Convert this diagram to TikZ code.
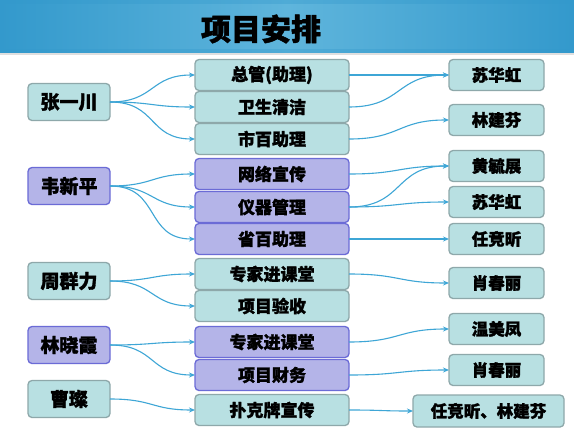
\documentclass[tikz,border=0pt]{standalone}
\usepackage{fontspec}
\setmainfont{Noto Sans CJK SC}[BoldFeatures={FakeBold=1.5}]
\usetikzlibrary{arrows.meta,calc}
\definecolor{tealfill}{HTML}{B8E0E2}
\definecolor{tealline}{HTML}{8EA8AA}
\definecolor{purfill}{HTML}{B4B4E8}
\definecolor{purline}{HTML}{6B6BD6}
\definecolor{arrowblue}{HTML}{3EA6D6}
\definecolor{bardark}{HTML}{3399CC}
\definecolor{barlight}{HTML}{5FB5DC}
\tikzset{
  box/.style={draw, line width=1.3pt, rounded corners=4pt, outer sep=0pt, inner sep=0pt, font=\bfseries},
  tealbox/.style={box, draw=tealline, fill=tealfill},
  purbox/.style={box, draw=purline, fill=purfill},
  leftbox/.style={minimum width=82pt, minimum height=37pt, font=\bfseries\fontsize{19}{19}\selectfont},
  midbox/.style={minimum width=154pt, minimum height=31pt, font=\bfseries\fontsize{17}{17}\selectfont},
  rightbox/.style={minimum width=95pt, minimum height=31pt, font=\bfseries\fontsize{16.5}{16.5}\selectfont},
  link/.style={draw=arrowblue, line width=1.1pt, -{Stealth[length=6pt,width=5pt]}, out=0, in=180, looseness=1.3},
}
\begin{document}
\begin{tikzpicture}[x=1pt,y=-1pt]
\useasboundingbox (0,0) rectangle (574,429);
\fill[white] (0,0) rectangle (574,429);
% title bar
\shade[left color=bardark, right color=bardark, middle color=barlight] (0,0) rectangle (574,53);
\fill[bardark, opacity=0.35] (0,0) rectangle (574,4);
\fill[bardark, opacity=0.35] (0,49) rectangle (574,53);
\fill[gray!25] (0,53) rectangle (574,55);
\node[font=\bfseries\fontsize{30}{30}\selectfont] (title) at (261,29) {项目安排};

% left nodes
\node[tealbox, leftbox] (zyc) at (69,102) {张一川};
\node[purbox, leftbox] (wxp) at (69,186) {韦新平};
\node[tealbox, leftbox] (zql) at (69,281) {周群力};
\node[purbox, leftbox] (lxx) at (69,345) {林晓霞};
\node[tealbox, leftbox] (cc) at (69,399) {曹璨};

% middle nodes
\node[tealbox, midbox] (m1) at (272,75) {总管(助理)};
\node[tealbox, midbox] (m2) at (272,107) {卫生清洁};
\node[tealbox, midbox] (m3) at (272,139) {市百助理};
\node[purbox, midbox] (m4) at (272,174) {网络宣传};
\node[purbox, midbox] (m5) at (272,207) {仪器管理};
\node[purbox, midbox] (m6) at (272,239) {省百助理};
\node[tealbox, midbox] (m7) at (272,274) {专家进课堂};
\node[tealbox, midbox] (m8) at (272,306) {项目验收};
\node[purbox, midbox] (m9) at (272,342) {专家进课堂};
\node[purbox, midbox] (m10) at (272,375) {项目财务};
\node[tealbox, midbox] (m11) at (272,410) {扑克牌宣传};

% right nodes
\node[tealbox, rightbox] (r1) at (496.5,75) {苏华虹};
\node[tealbox, rightbox] (r2) at (496.5,120) {林建芬};
\node[tealbox, rightbox] (r3) at (496.5,166) {黄毓展};
\node[tealbox, rightbox] (r4) at (496.5,202) {苏华虹};
\node[tealbox, rightbox] (r5) at (496.5,239) {任竞昕};
\node[tealbox, rightbox] (r6) at (496.5,283) {肖春丽};
\node[tealbox, rightbox] (r7) at (496.5,329) {温美凤};
\node[tealbox, rightbox] (r8) at (496.5,370) {肖春丽};
\node[tealbox, rightbox, minimum width=151pt, minimum height=32pt] (r9) at (488.5,411) {任竞昕、林建芬};

% left connectors
\foreach \s/\t in {zyc/m1, zyc/m2, zyc/m3, wxp/m4, wxp/m5, wxp/m6, zql/m7, zql/m8, lxx/m9, lxx/m10, cc/m11}
  \draw[link] (\s.east) to (\t.west);
% right connectors
\foreach \s/\t in {m1/r1, m2/r1, m3/r2, m4/r3, m5/r3, m5/r4, m6/r5, m7/r6, m9/r7, m10/r8, m11/r9}
  \draw[link] (\s.east) to (\t.west);
\end{tikzpicture}
\end{document}
